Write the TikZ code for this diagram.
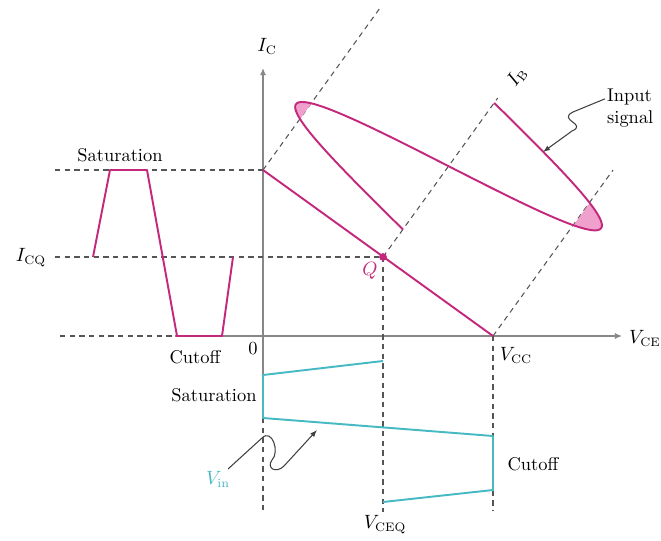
\documentclass[tikz,border=0pt]{standalone}
\usetikzlibrary{arrows.meta}
\definecolor{mag}{RGB}{196,40,125}
\definecolor{pinkfill}{RGB}{240,160,205}
\definecolor{cyanw}{RGB}{70,185,195}
\definecolor{dashc}{RGB}{85,85,85}
\definecolor{axisc}{RGB}{135,135,135}
\begin{document}
\begin{tikzpicture}[x=0.02cm,y=-0.02cm,
  font=\fontsize{10.5}{12.5}\selectfont,
  guide/.style={dashc, line width=0.6pt, dash pattern=on 3pt off 2.5pt},
  axisline/.style={axisc, line width=0.9pt},
  magline/.style={mag, line width=1.1pt, line join=round},
  cyline/.style={cyanw, line width=1.1pt, line join=round},
  leader/.style={black!75, line width=0.6pt, -{Latex[length=4pt,width=3pt]}},
  lbl/.style={inner sep=1pt}]
\useasboundingbox (0,0) rectangle (661,540);

% key points
\coordinate (S) at (263,170);
\coordinate (Q) at (383,257);
\coordinate (C) at (493,336);
\coordinate (ytop) at (263,68);
\coordinate (xend) at (622,336);

% axes
\draw[guide] (60,336) -- (175,336);
\draw[axisline,-{Latex[length=4pt,width=3.5pt]}] (175,336) -- (xend);
\draw[axisline,-{Latex[length=4pt,width=3.5pt]}] (263,375) -- (ytop);
\draw[guide] (263,418) -- (263,510);

% guide lines
\draw[guide] (55,170) -- (S);
\draw[guide] (55,257) -- (Q);
\draw[guide] (Q) -- (383,512);
\draw[guide] (C) -- (493,510);
\draw[guide] (S) -- ++(117,-162);
\draw[guide] (Q) -- ++(114.7,-159);
\draw[guide] (C) -- ++(120,-166);

% load line
\draw[magline] (S) -- (C);

% input signal (clipped tips filled)
\fill[pinkfill] plot[domain=63.3:82.7,samples=30,variable=\t]
  ({383+0.5852*\t-129.74*sin(2.30769*(\t-34))},{257-0.8109*\t-93.63*sin(2.30769*(\t-34))}) -- cycle;
\fill[pinkfill] plot[domain=137.2:164.8,samples=30,variable=\t]
  ({383+0.5852*\t-129.74*sin(2.30769*(\t-34))},{257-0.8109*\t-93.63*sin(2.30769*(\t-34))}) -- cycle;
\draw[magline] plot[domain=34:190,samples=160,variable=\t]
  ({383+0.5852*\t-129.74*sin(2.30769*(\t-34))},{257-0.8109*\t-93.63*sin(2.30769*(\t-34))});

\fill[mag] (Q) circle[radius=2.2pt];

% output current waveform
\draw[magline] (93,257) -- (110,170) -- (147,170) -- (177,336) -- (222,336) -- (233,257);

% output voltage waveform
\draw[cyline] (383,361) -- (263,375) -- (263,418) -- (493,436) -- (493,490) -- (383,502);

% labels
\node[lbl] (IC) at (267,46) {$I_{\mathrm{C}}$};
\node[lbl] (ICQ) at (31,258) {$I_{\mathrm{CQ}}$};
\node[lbl] (sat1) at (120,155) {Saturation};
\node[lbl] (cut1) at (195,357) {Cutoff};
\node[lbl] (zero) at (253,349) {0};
\node[lbl] (sat2) at (214,395) {Saturation};
\node[lbl] (cut2) at (533,464) {Cutoff};
\node[lbl] (vceq) at (385,525) {$V_{\mathrm{CEQ}}$};
\node[lbl] (vcc) at (516,355) {$V_{\mathrm{CC}}$};
\node[lbl,anchor=west] (vce) at (627,338) {$V_{\mathrm{CE}}$};
\node[lbl,text=mag] (Qlbl) at (370,271) {$Q$};
\node[lbl,rotate=54] (IB) at (517,77) {$I_{\mathrm{B}}$};
\node[lbl,align=left,anchor=west] (insig) at (605,108) {Input\\signal};
\node[lbl,text=cyanw] (vin) at (218,479) {$V_{\mathrm{in}}$};

% leaders
\coordinate (sigpt) at (543,152);
\coordinate (vinpt) at (317,430);
\draw[leader] (insig.160) -- (573,112) .. controls (557,120) and (588,124) .. (572,131) -- (sigpt);
\draw[leader] (vin.45) -- (262,438) .. controls (272,428) and (280,452) .. (272,460)
  .. controls (266,468) and (276,474) .. (284,466) -- (vinpt);
\end{tikzpicture}
\end{document}
